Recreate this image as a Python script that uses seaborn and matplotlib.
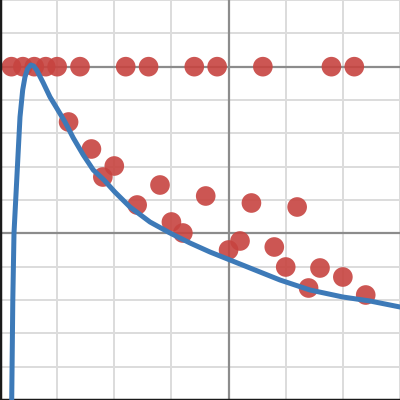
import matplotlib
matplotlib.use("Agg")
import matplotlib.pyplot as plt
import seaborn as sns
import pandas as pd

# scatter data
top_x = [-3.8, -3.6, -3.4, -3.2, -3.0, -2.6, -1.8, -1.4, -0.6, -0.2, 0.6, 1.8, 2.2]
top_y = [5.0] * len(top_x)

low_x = [-2.8, -2.4, -2.2, -2.0, -1.6, -1.2, -1.0, -0.8, -0.4, 0.0,
         0.2, 0.4, 0.8, 1.0, 1.2, 1.4, 1.6, 2.0, 2.4]
low_y = [3.34, 2.53, 1.69, 2.02, 0.85, 1.45, 0.34, 0.01, 1.12, -0.5,
         -0.23, 0.91, -0.41, -1.01, 0.79, -1.64, -1.04, -1.31, -1.85]

# fitted curve
curve_x = [-3.795, -3.776, -3.755, -3.68, -3.65, -3.603, -3.563, -3.519,
           -3.463, -3.41, -3.358, -3.242, -3.125, -3.008, -2.862, -2.717,
           -2.542, -2.367, -2.18, -1.99, -1.725, -1.375, -1.025, -0.675,
           -0.325, 0.025, 0.375, 0.9, 1.425, 2.0, 2.475, 3.0]
curve_y = [-5.0, -2.0, 0.01, 2.5, 3.49, 4.3, 4.69, 4.93,
           5.05, 5.02, 4.9, 4.51, 4.09, 3.76, 3.34, 2.86,
           2.35, 1.9, 1.6, 1.24, 0.79, 0.34, 0.01, -0.29,
           -0.56, -0.8, -1.04, -1.4, -1.7, -1.91, -2.03, -2.21]

points = pd.DataFrame({"x": top_x + low_x, "y": top_y + low_y})
curve = pd.DataFrame({"x": curve_x, "y": curve_y})

sns.set_style("white")
fig = plt.figure(figsize=(4, 4), dpi=100)
ax = fig.add_axes([0, 0, 1, 1])

ax.set_xlim(-4, 3)
ax.set_ylim(-5, 7)
ax.set_xticks(range(-4, 4))
ax.set_yticks(range(-5, 8))
ax.grid(True, color="#dcdcdc", linewidth=1.4, zorder=0)
ax.set_axisbelow(True)

ax.axvline(0, color="#8c8c8c", linewidth=1.6, zorder=1)
ax.axhline(0, color="#8c8c8c", linewidth=1.6, zorder=1)
ax.axhline(5, color="#8c8c8c", linewidth=1.6, zorder=1)

sns.scatterplot(data=points, x="x", y="y", ax=ax, color="#c74440", alpha=0.9,
                s=200, edgecolor="none", zorder=2)
sns.lineplot(data=curve, x="x", y="y", ax=ax, sort=False, estimator=None,
             color="#3d7ab8", linewidth=3.6, zorder=3,
             solid_joinstyle="round", solid_capstyle="round")

ax.set_xlabel("")
ax.set_ylabel("")
ax.tick_params(left=False, bottom=False, labelleft=False, labelbottom=False)
for side in ["top", "right"]:
    ax.spines[side].set_visible(False)
for side in ["left", "bottom"]:
    ax.spines[side].set_color("#1a1a1a")
    ax.spines[side].set_linewidth(2.5)

fig.savefig("out.png", dpi=100)
